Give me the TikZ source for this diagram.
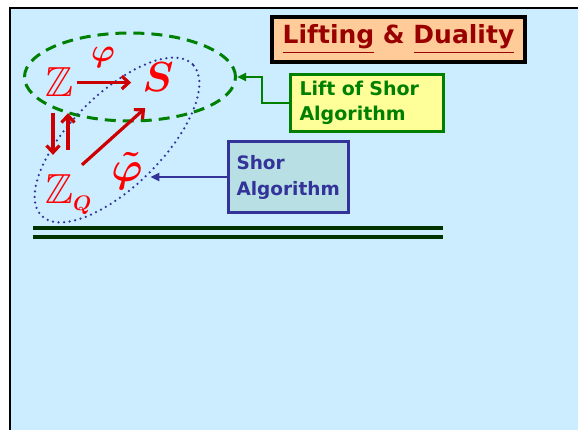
\RequirePackage{fix-cm}
\documentclass[tikz,border=0pt]{standalone}
\usepackage{amsmath,amssymb}
\usepackage{fontspec}
\setsansfont{DejaVu Sans}
\usepackage{tikz}
\usetikzlibrary{shapes.geometric,arrows.meta,positioning,calc}
\definecolor{slidebg}{HTML}{CCECFF}
\definecolor{titlefill}{HTML}{FFCC99}
\definecolor{titlered}{HTML}{990000}
\definecolor{liftgreen}{HTML}{008000}
\definecolor{liftfill}{HTML}{FFFF99}
\definecolor{shorblue}{HTML}{333399}
\definecolor{shorfill}{HTML}{B8E0E4}
\definecolor{mapred}{HTML}{CC0000}
\definecolor{symred}{HTML}{FF0000}
\definecolor{rulegreen}{HTML}{003300}

\begin{document}
\begin{tikzpicture}[x=1pt, y=-1pt,
    titlebox/.style={rectangle, draw=black, fill=titlefill, line width=4pt, minimum width=253pt, minimum height=45pt, inner sep=0pt, font=\sffamily\bfseries\fontsize{25}{28}\selectfont\color{titlered}},
    liftbox/.style={rectangle, draw=liftgreen, fill=liftfill, line width=3pt, text width=135pt, minimum height=57pt, inner xsep=9pt, align=left, font=\sffamily\bfseries\fontsize{19}{25}\selectfont\color{liftgreen}},
    shorbox/.style={rectangle, draw=shorblue, fill=shorfill, line width=3pt, text width=104pt, minimum height=71pt, inner xsep=8pt, align=left, font=\sffamily\bfseries\fontsize{18.5}{26}\selectfont\color{shorblue}},
    sym/.style={inner sep=0pt, font=\fontsize{42}{42}\selectfont\color{symred}},
    liftring/.style={ellipse, draw=liftgreen, line width=3pt, dash pattern=on 11pt off 7pt},
    shorring/.style={ellipse, draw=shorblue, line width=2.5pt, line cap=round, dash pattern=on 0pt off 5.6pt},
    maparr/.style={-{Straight Barb[length=7pt,width=13pt]}, line width=3.2pt, draw=mapred},
    liftarr/.style={-{Triangle[length=9pt,width=8pt]}, line width=2.5pt, draw=liftgreen},
    shorarr/.style={-{Triangle[length=9pt,width=8pt]}, line width=2.5pt, draw=shorblue}
]
    \useasboundingbox (0,0) rectangle (578,430);
    \fill[slidebg] (10,8) rectangle (578,430);
    \draw[black, line width=2.5pt] (10,430) -- (10,8) -- (578,8);

    % Boxes
    \node (title) [titlebox] at (398.5,39.5) {\underline{Lifting} \& \underline{Duality}};
    \node (lift) [liftbox] at (367,103) {Lift of Shor\\Algorithm};
    \node (shor) [shorbox] at (288.5,177) {Shor\\Algorithm};

    % Rings
    \node (ring1) [liftring, minimum width=211pt, minimum height=88pt] at (130,77) {};
    \node (ring2) [shorring, rotate=45, minimum width=214pt, minimum height=92pt] at (117,140) {};

    % Symbols
    \node (zz) [sym, anchor=base west] at (45,97) {$\mathbb{Z}$};
    \node (ss) [sym, anchor=base] at (158,92) {$\boldsymbol{S}$};
    \node (zq) [sym, anchor=base west] at (45,204) {$\mathbb{Z}_{\scriptscriptstyle\boldsymbol{Q}}$};
    \node (phi) [sym, font=\fontsize{32}{32}\selectfont\color{symred}] at (103,58) {$\boldsymbol{\varphi}$};
    \node (tphi) [sym] at (127,171) {$\boldsymbol{\tilde{\varphi}}$};

    \draw [maparr, shorten <=4pt, shorten >=11pt] (zz.east) -- (zz.east -| ss.west);
    \draw [maparr] ([shift={(8,16)}]zz.south west) -- ([shift={(8,-20)}]zq.north west);
    \draw [maparr] ([shift={(23,-25)}]zq.north west) -- ([shift={(23,16)}]zz.south west);
    \draw [maparr] ([shift={(37,-10)}]zq.north west) -- ([shift={(3,16)}]ss.south west);

    \draw [liftarr] (lift.west) -- ++(-27,0) |- (ring1.east);
    \draw [shorarr] (shor.west) -- (shor.west -| ring2.south);

    % Rule
    \draw[rulegreen, line width=4pt] (33,228) -- (443,228);
    \draw[rulegreen, line width=4pt] (33,237) -- (443,237);
\end{tikzpicture}
\end{document}
